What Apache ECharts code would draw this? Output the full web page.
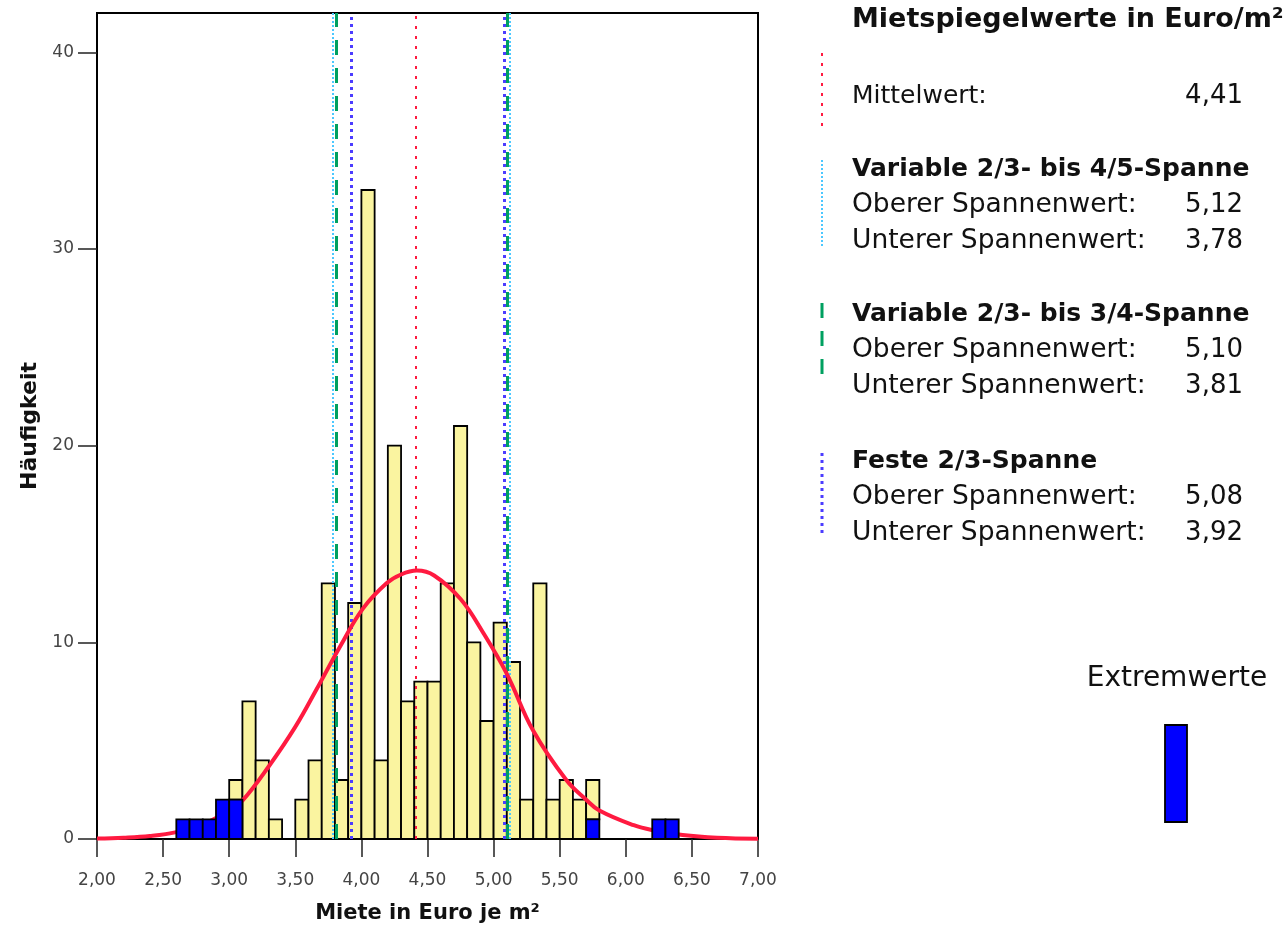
<!DOCTYPE html>
<html><head><meta charset="utf-8">
<script src="https://cdn.jsdelivr.net/npm/echarts@6/dist/echarts.min.js"></script>
<style>html,body{margin:0;padding:0;background:#fff}#c{width:1288px;height:926px}</style>
</head><body><div id="c"></div>
<script>
// ---- data ----
const binStarts = [2.6,2.7,2.8,2.9,3.0,3.1,3.2,3.3,3.4,3.5,3.6,3.7,3.8,3.9,4.0,4.1,4.2,4.3,4.4,4.5,4.6,4.7,4.8,4.9,5.0,5.1,5.2,5.3,5.4,5.5,5.6,5.7,5.8,5.9,6.0,6.1,6.2,6.3];
const binWidth = 0.1;
const normalCounts  = [0,0,0,0,1,7,4,1,0,2,4,13,3,12,33,4,20,7,8,8,13,21,10,6,11,9,2,13,2,3,2,2,0,0,0,0,0,0];
const extremeCounts = [1,1,1,2,2,0,0,0,0,0,0,0,0,0,0,0,0,0,0,0,0,0,0,0,0,0,0,0,0,0,0,1,0,0,0,0,1,1];
const curveX = [2.00,2.20,2.40,2.60,2.80,3.00,3.10,3.30,3.50,3.66,3.84,4.01,4.19,4.30,4.42,4.55,4.75,4.92,5.10,5.30,5.55,5.70,5.80,6.06,6.20,6.43,6.69,7.00];
const curveY = [0.02,0.06,0.15,0.35,0.75,1.45,1.95,3.70,5.70,7.60,9.80,11.70,13.00,13.45,13.65,13.40,12.20,10.50,8.40,5.50,3.00,2.00,1.45,0.70,0.45,0.20,0.06,0.01];
const yTickValues = [0,10,20,30,40];
const xAxisTitle = 'Miete in Euro je m²';
const yAxisTitle = 'Häufigkeit';
const legendTitle = 'Mietspiegelwerte in Euro/m²';
const meanLabel = 'Mittelwert:';
const meanValue = 4.41;
const spanNames = ['Variable 2/3- bis 4/5-Spanne','Variable 2/3- bis 3/4-Spanne','Feste 2/3-Spanne'];
const upperLabel = 'Oberer Spannenwert:';
const lowerLabel = 'Unterer Spannenwert:';
const upperValues = [5.12, 5.10, 5.08];
const lowerValues = [3.78, 3.81, 3.92];
const extremeLabel = 'Extremwerte';

// ---- styles ----
const FONT = "'DejaVu Sans', sans-serif";
const YELLOW = '#faf4a0', BLUE = '#0000ff';
const meanStyle = {color:'#ff1a40', width:2, type:[3,7]};
const spanStyles = [
  {color:'#4cc8ff', width:2, type:[2,2]},
  {color:'#00a060', width:3, type:[15,13]},
  {color:'#4b3cff', width:3, type:[3,4]}
];
const fmt = v => v.toFixed(2).replace('.', ',');

const extremeData = [], normalData = [];
binStarts.forEach((s,i) => {
  const e = extremeCounts[i], n = normalCounts[i];
  if (e > 0) extremeData.push([s, s + binWidth, 0, e]);
  if (n > 0) normalData.push([s, s + binWidth, e, e + n]);
});

function barRenderer(fill) {
  return function (params, api) {
    const p0 = api.coord([api.value(0), api.value(3)]);
    const p1 = api.coord([api.value(1), api.value(2)]);
    return {type:'rect', shape:{x:p0[0], y:p0[1], width:p1[0]-p0[0], height:p1[1]-p0[1]},
      style:{fill:fill, stroke:'#000', lineWidth:1.8}};
  };
}

const chart = echarts.init(document.getElementById('c'), null, {renderer:'canvas'});

// legend graphics
const g = [];
const LX = 852, VX = 1243, MX = 822;
function txt(t, x, y, size, bold, align) {
  g.push({type:'text', x:x, y:y, silent:true,
    style:{text:t, x:0, y:0, font:(bold?'bold ':'') + size + 'px ' + FONT, fill:'#111',
      textAlign:align||'left', textVerticalAlign:'middle', align:align||'left', verticalAlign:'middle'}});
}
function vline(x, y1, y2, st) {
  g.push({type:'line', silent:true, shape:{x1:x, y1:y1, x2:x, y2:y2},
    style:{stroke:st.color, lineWidth:st.width, lineDash:st.type}});
}
txt(legendTitle, LX, 20, 27, true);
vline(MX, 53, 132, meanStyle);
txt(meanLabel, LX, 96, 25, false);
txt(fmt(meanValue), VX, 96, 26, false, 'right');
const groupTop = [169, 314, 461];
const markerRange = [[160,248],[303,378],[453,533]];
spanNames.forEach((nm, i) => {
  const y0 = groupTop[i];
  vline(MX, markerRange[i][0], markerRange[i][1], spanStyles[i]);
  txt(nm, LX, y0, 25, true);
  txt(upperLabel, LX, y0 + 36, 26.5, false);
  txt(fmt(upperValues[i]), VX, y0 + 36, 26, false, 'right');
  txt(lowerLabel, LX, y0 + 72, 26.5, false);
  txt(fmt(lowerValues[i]), VX, y0 + 72, 26, false, 'right');
});
txt(extremeLabel, 1177, 679, 28, false, 'center');
g.push({type:'rect', silent:true, shape:{x:1165, y:725, width:22, height:97},
  style:{fill:BLUE, stroke:'#000', lineWidth:1.8}});

const spanSeries = spanNames.map((nm, i) => ({
  name: nm, type:'line', data:[], z:4, silent:true,
  markLine:{silent:true, symbol:'none', animation:false, label:{show:false},
    lineStyle:{color:spanStyles[i].color, width:spanStyles[i].width, type:spanStyles[i].type},
    emphasis:{disabled:true},
    data:[{xAxis:lowerValues[i]},{xAxis:upperValues[i]}]}
}));

chart.setOption({
  animation:false,
  backgroundColor:'#fff',
  textStyle:{fontFamily:FONT},
  grid:{left:97, right:530, top:13, bottom:87, show:true, borderColor:'#000', borderWidth:2,
    backgroundColor:'transparent', containLabel:false, outerBoundsMode:'none'},
  xAxis:{type:'value', min:2, max:7, interval:0.5,
    name:xAxisTitle, nameLocation:'middle', nameGap:64,
    nameTextStyle:{fontFamily:FONT, fontSize:21, fontWeight:'bold', color:'#111'},
    axisLine:{show:true, lineStyle:{color:'#000', width:2}},
    axisTick:{show:true, inside:false, length:18, lineStyle:{color:'#222', width:1.5}},
    axisLabel:{margin:33, fontFamily:FONT, fontSize:17, color:'#444', formatter:v => fmt(v)},
    splitLine:{show:false}},
  yAxis:{type:'value', min:0, max:42,
    name:yAxisTitle, nameLocation:'middle', nameGap:55,
    nameTextStyle:{fontFamily:FONT, fontSize:22, fontWeight:'bold', color:'#111'},
    axisLine:{show:true, lineStyle:{color:'#000', width:2}},
    axisTick:{show:true, length:19, customValues:yTickValues, lineStyle:{color:'#222', width:1.5}},
    axisLabel:{margin:23, fontFamily:FONT, fontSize:17, color:'#444', customValues:yTickValues},
    splitLine:{show:false}},
  series:[
    {name:'Normal', type:'custom', renderItem:barRenderer(YELLOW), data:normalData,
      encode:{x:[0,1], y:[2,3]}, z:2, silent:true},
    {name:'Mittelwert', type:'line', data:[], z:4, silent:true,
      markLine:{silent:true, symbol:'none', animation:false, label:{show:false},
        lineStyle:{color:meanStyle.color, width:meanStyle.width, type:meanStyle.type},
        data:[{xAxis:meanValue}]}},
    ...spanSeries,
    {name:'Normalverteilung', type:'line', smooth:0.4, symbol:'none', z:5, silent:true,
      data:curveX.map((x,i) => [x, curveY[i]]),
      lineStyle:{color:'#ff1a40', width:4}},
    {name:'Extremwerte', type:'custom', renderItem:barRenderer(BLUE), data:extremeData,
      encode:{x:[0,1], y:[2,3]}, z:6, silent:true}
  ],
  graphic:g
});
</script>
</body></html>
